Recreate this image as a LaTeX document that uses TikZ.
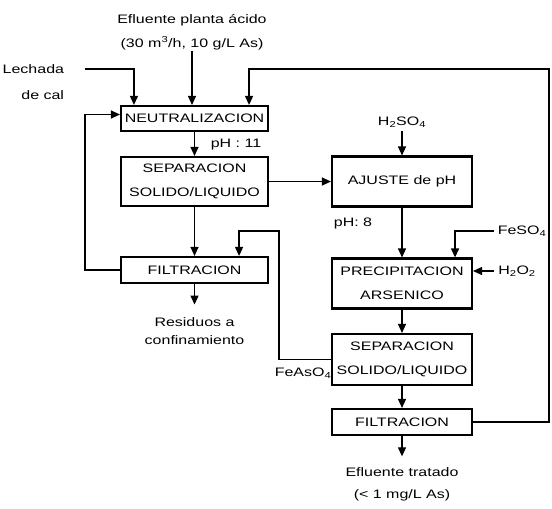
\documentclass[tikz,border=0pt]{standalone}
\usepackage{fontspec}
\setmainfont{Liberation Sans}[FakeStretch=1.3]
\usetikzlibrary{arrows.meta,positioning}

\begin{document}
\begin{tikzpicture}[x=1pt,y=-1pt,on grid,node distance=63pt,
    >={Triangle[length=9pt,width=8pt]},line width=1.2pt,
    font=\fontsize{12.3}{24}\selectfont,
    box/.style={draw,line width=2.1pt,inner sep=0pt,align=center,minimum height=25pt},
    lbox/.style={box,minimum width=147pt},
    rbox/.style={box,minimum width=140pt}]
    \useasboundingbox (0,0) rectangle (552,509);

    \node[lbox] (neut) at (194.5,118.5) {NEUTRALIZACION};
    \node[lbox,minimum height=49pt] (sep1) [below=of neut] {SEPARACION\\SOLIDO/LIQUIDO};
    \node[lbox,minimum height=26pt] (filt1) [below=88.5pt of sep1] {FILTRACION};
    \node[rbox,minimum height=50pt] (ajuste) [right=207.5pt of sep1] {AJUSTE de pH};
    \node[rbox,minimum height=50pt] (precip) [below=102pt of ajuste] {PRECIPITACION\\ARSENICO};
    \node[rbox,minimum height=51pt] (sep2) [below=76pt of precip] {SEPARACION\\SOLIDO/LIQUIDO};
    \node[rbox,minimum height=26pt] (filt2) [below=62.5pt of sep2] {FILTRACION};

    \node[align=center,inner sep=1pt] (efl) at (192,32) {Efluente planta ácido\\(30 m\textsuperscript{3}/h, 10 g/L As)};
    \node[align=right,anchor=east] (lech) at (68,82) {Lechada\\[2pt]de cal};
    \node (ph11) at (236,145) {pH : 11};
    \node (ph8) at (353,223) {pH: 8};
    \node (h2so4) at (402,122) {H\textsubscript{2}SO\textsubscript{4}};
    \node (feso4) at (522,231) {FeSO\textsubscript{4}};
    \node (h2o2) at (517,271) {H\textsubscript{2}O\textsubscript{2}};
    \node (feaso4) at (303,373) {FeAsO\textsubscript{4}};
    \node[align=center] (res) at (194.5,331) {Residuos a\\[-6pt]confinamiento};
    \node[align=center] (trat) at (402,484) {Efluente tratado\\[-2pt](< 1 mg/L As)};

    \coordinate (lechin) at (85,69);
    \coordinate (ret) at (549,69);
    \coordinate (fe) at (279,231);

    % entradas a neutralizacion
    \draw[->] (lechin) -| ([xshift=14pt]neut.north west);
    \draw[->] (efl.south) -- (efl.south |- neut.north);
    \draw[->] (filt2.east) -| (ret) -| ([xshift=-20pt]neut.north east);
    \draw[->] (filt1.west) -- ++(-35,0) |- ([yshift=4pt]neut.west);

    % linea izquierda
    \draw[->] (neut) -- (sep1);
    \draw[->] (sep1) -- (filt1);
    \draw[->] (sep1.east) -- (sep1.east -| ajuste.west);
    \draw[->,shorten >=9pt] (filt1) -- (res);

    % linea derecha
    \draw[->] (h2so4) -- (ajuste);
    \draw[->] (ajuste) -- (precip);
    \draw[->] (feso4.west) -| ([xshift=-18pt]precip.north east);
    \draw[->] (h2o2.west) -- (h2o2.west -| precip.east);
    \draw[->] (precip) -- (sep2);
    \draw[->] (sep2) -- (filt2);
    \draw[->,shorten >=7pt] (filt2) -- (trat);
    \draw[->] (sep2.west) -| (fe) -| ([xshift=-30pt]filt1.north east);
\end{tikzpicture}
\end{document}
